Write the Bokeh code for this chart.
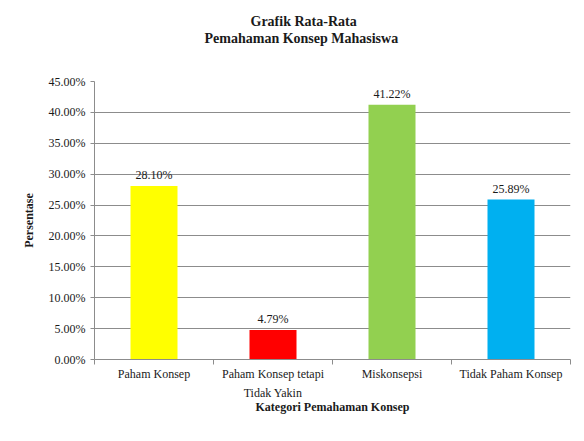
from bokeh.plotting import figure
from bokeh.models import (ColumnDataSource, FixedTicker, NumeralTickFormatter,
                          LabelSet, Title, Range1d)
from bokeh.embed import file_html
from bokeh.resources import INLINE

categories = ["Paham Konsep", "Paham Konsep tetapi\nTidak Yakin", "Miskonsepsi", "Tidak Paham Konsep"]
values = [28.10, 4.79, 41.22, 25.89]
y_ticks = [0, 5, 10, 15, 20, 25, 30, 35, 40, 45]
bar_colors = ["#FFFF00", "#FF0000", "#92D050", "#00B0F0"]
titles = ["Grafik Rata-Rata", "Pemahaman  Konsep Mahasiswa"]

FONT = "Liberation Serif"
GRAY = "#8c8c8c"
TXT = "#1a1a1a"

xs = [i + 0.5 for i in range(len(categories))]
src = ColumnDataSource(dict(
    x=xs,
    y=[v / 100 for v in values],
    color=bar_colors,
    lab=["%.2f%%" % v for v in values],
))

p = figure(width=576, height=433, output_backend="svg", toolbar_location=None,
           x_range=Range1d(0, len(categories)), y_range=Range1d(0, y_ticks[-1] / 100),
           min_border_left=94, min_border_right=6, min_border_top=81, min_border_bottom=74,
           background_fill_color="white", border_fill_color="white", title=None)
p.outline_line_color = None

p.vbar(x="x", top="y", width=0.395, bottom=0, color="color", line_color=None, source=src)

p.add_layout(LabelSet(x="x", y="y", text="lab", source=src, text_align="center",
                      text_baseline="bottom", y_offset=4, text_font=FONT,
                      text_font_size="12px", text_color=TXT))

# y axis
p.yaxis.ticker = FixedTicker(ticks=[t / 100 for t in y_ticks])
p.yaxis.formatter = NumeralTickFormatter(format="0.00%")
p.yaxis.major_label_text_font = FONT
p.yaxis.major_label_text_font_size = "12px"
p.yaxis.major_label_text_color = TXT
p.yaxis.axis_line_color = GRAY
p.yaxis.major_tick_line_color = GRAY
p.yaxis.major_tick_in = 0
p.yaxis.major_tick_out = 4
p.yaxis.minor_tick_line_color = None
p.yaxis.axis_label = "Persentase"
p.yaxis.axis_label_text_font = FONT
p.yaxis.axis_label_text_font_style = "bold"
p.yaxis.axis_label_text_font_size = "12px"
p.yaxis.axis_label_text_color = TXT
p.yaxis.axis_label_standoff = 10

# x axis
p.xaxis.ticker = FixedTicker(ticks=xs, minor_ticks=list(range(len(categories) + 1)))
p.xaxis.major_label_overrides = {x: c for x, c in zip(xs, categories)}
p.xaxis.major_label_text_font = FONT
p.xaxis.major_label_text_font_size = "12px"
p.xaxis.major_label_text_color = TXT
p.xaxis.major_label_text_line_height = 1.4
p.xaxis.major_tick_line_color = None
p.xaxis.minor_tick_line_color = GRAY
p.xaxis.minor_tick_in = 0
p.xaxis.minor_tick_out = 5
p.xaxis.axis_line_color = GRAY
p.xaxis.major_label_standoff = 1
p.xaxis.axis_label = "Kategori Pemahaman Konsep"
p.xaxis.axis_label_text_font = FONT
p.xaxis.axis_label_text_font_style = "bold"
p.xaxis.axis_label_text_font_size = "12px"
p.xaxis.axis_label_text_color = TXT
p.xaxis.axis_label_standoff = -3

p.xgrid.grid_line_color = None
p.ygrid.grid_line_color = GRAY
p.ygrid.grid_line_width = 1

# title block: spacer nearest frame, then two title lines
p.add_layout(Title(text=" ", standoff=19, text_font=FONT, text_font_size="13px"), "above")
p.add_layout(Title(text=titles[1], align="left", offset=110, standoff=0,
                   text_font=FONT, text_font_style="bold", text_font_size="14px",
                   text_color=TXT), "above")
p.add_layout(Title(text=titles[0], align="left", offset=156, standoff=0,
                   text_font=FONT, text_font_style="bold", text_font_size="14px",
                   text_color=TXT), "above")

open("out.html", "w").write(file_html(p, INLINE))
